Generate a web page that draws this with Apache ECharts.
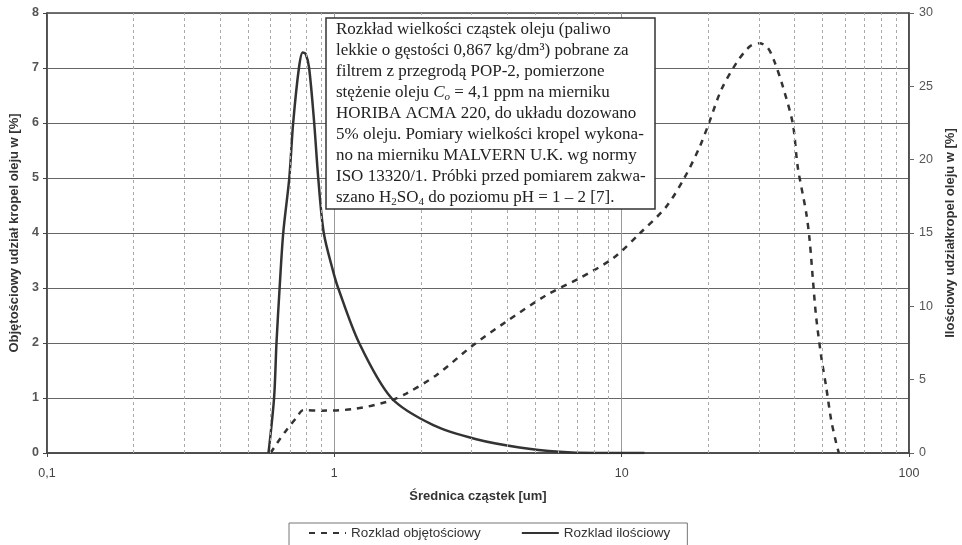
<!DOCTYPE html>
<html>
<head>
<meta charset="utf-8">
<script src="https://cdn.jsdelivr.net/npm/echarts@6/dist/echarts.min.js"></script>
<style>
html,body{margin:0;padding:0;background:#fff;}
#chart{width:962px;height:545px;}
</style>
</head>
<body>
<div id="chart"></div>
<script>
// ---- data ----
const volSizes = [0.6, 0.632, 0.682, 0.74, 0.78, 0.89, 1.17, 1.52, 1.78, 2.27, 3.04, 3.97, 5.47, 7.14, 9.33, 11.6, 14.3, 16.6, 18.7, 20.2, 22.2, 25.0, 27.9, 30.2, 32.3, 34.0, 36.4, 39.4, 41.0, 43.9, 45.1, 46.3, 47.5, 49.5, 51.5, 53.6, 55.8, 57];
const volValues = [0, 0.18, 0.42, 0.65, 0.78, 0.77, 0.8, 0.93, 1.08, 1.42, 1.96, 2.39, 2.87, 3.18, 3.54, 4.0, 4.48, 5.02, 5.57, 6.02, 6.6, 7.08, 7.39, 7.45, 7.36, 7.12, 6.66, 5.99, 5.2, 4.36, 3.87, 3.15, 2.48, 1.75, 1.2, 0.6, 0.18, 0];

const numSizes = [0.59, 0.617, 0.629, 0.645, 0.664, 0.697, 0.719, 0.753, 0.776, 0.795, 0.817, 0.851, 0.879, 0.919, 0.99, 1.031, 1.22, 1.58, 2.21, 3.12, 4.41, 6.08, 8.0, 12];
const numValues = [0, 3.75, 7.5, 11.25, 15, 18.75, 22.5, 26.25, 27.3, 27.2, 26.25, 22.5, 18.75, 15, 12.4, 11.25, 7.5, 3.75, 1.9, 0.94, 0.38, 0.08, 0, 0];

const xTickValues = [0.1, 1, 10, 100];
const xTickLabels = ['0,1', '1', '10', '100'];
const xMinorGrid = [0.2,0.3,0.4,0.5,0.6,0.7,0.8,0.9,2,3,4,5,6,7,8,9,20,30,40,50,60,70,80,90];

const seriesNames = ['Rozklad objętościowy', 'Rozklad ilościowy'];
const xAxisName = 'Średnica cząstek [um]';
const yLeftName = 'Objętościowy udział kropel oleju w [%]';
const yRightName = 'Ilościowy udziałkropel oleju w [%]';

const noteLines = [
  'Rozkład wielkości cząstek oleju (paliwo',
  'lekkie o gęstości 0,867 kg/dm³) pobrane za',
  'filtrem z przegrodą POP-2, pomierzone',
  'stężenie oleju {i|C}{sub|o} = 4,1 ppm na mierniku',
  'HORIBA ACMA 220, do układu dozowano',
  '5% oleju. Pomiary wielkości kropel wykona-',
  'no na mierniku MALVERN U.K. wg normy',
  'ISO 13320/1. Próbki przed pomiarem zakwa-',
  'szano H{s|2}SO{s|4} do poziomu pH = 1 – 2 [7].'
];

// ---- chart ----
const chart = echarts.init(document.getElementById('chart'), null, {renderer: 'canvas'});
const sans = '"Liberation Sans", Arial, sans-serif';
const serif = '"Liberation Serif", "Times New Roman", serif';

const volData = volSizes.map((x, i) => [x, volValues[i]]);
const numData = numSizes.map((x, i) => [x, numValues[i]]);

chart.setOption({
  animation: false,
  backgroundColor: '#fff',
  title: {
    text: noteLines.join('\n'),
    left: 326, top: 18,
    padding: [1, 10, 1, 10],
    backgroundColor: '#fff',
    borderColor: '#333',
    borderWidth: 1.5,
    textStyle: {
      fontFamily: serif, fontSize: 17, fontWeight: 'normal', color: '#222', lineHeight: 21,
      rich: {
        i: {fontFamily: serif, fontSize: 17, fontStyle: 'italic', color: '#222', lineHeight: 21},
        sub: {fontFamily: serif, fontSize: 11, fontStyle: 'italic', color: '#222', verticalAlign: 'bottom', lineHeight: 17},
        s: {fontFamily: serif, fontSize: 11, color: '#222', verticalAlign: 'bottom', lineHeight: 17}
      }
    },
    z: 10
  },
  legend: {
    data: seriesNames,
    left: 289, top: 523,
    orient: 'horizontal',
    padding: [3, 17, 20, 19],
    itemGap: 40,
    itemWidth: 37, itemHeight: 12,
    borderColor: '#777', borderWidth: 1,
    itemStyle: {opacity: 0},
    textStyle: {fontFamily: sans, fontSize: 13.5, color: '#333'}
  },
  grid: {
    left: 47, right: 53, top: 13, bottom: 92,
    outerBoundsMode: 'none',
    containLabel: false,
    show: true, borderColor: '#444', borderWidth: 1.5, backgroundColor: 'transparent'
  },
  xAxis: {
    type: 'log', logBase: 10, min: 0.1, max: 100,
    name: xAxisName, nameLocation: 'middle', nameGap: 37,
    nameTextStyle: {fontFamily: sans, fontSize: 13, fontWeight: 'bold', color: '#333'},
    axisLine: {show: true, lineStyle: {color: '#444', width: 1.5}},
    axisTick: {show: true, length: 4, lineStyle: {color: '#444'}},
    axisLabel: {
      fontFamily: sans, fontSize: 12.5, color: '#444', margin: 14,
      formatter: function (v) {
        const idx = xTickValues.findIndex(t => Math.abs(Math.log10(t) - Math.log10(v)) < 1e-6);
        return idx >= 0 ? xTickLabels[idx] : '';
      }
    },
    splitLine: {show: true, lineStyle: {color: '#999', width: 1}},
    minorTick: {show: false}
  },
  yAxis: [
    {
      type: 'value', min: 0, max: 8, interval: 1, position: 'left',
      name: yLeftName, nameLocation: 'middle', nameGap: 24, nameRotate: 90,
      nameTextStyle: {fontFamily: sans, fontSize: 13, fontWeight: 'bold', color: '#333'},
      axisLine: {show: true, lineStyle: {color: '#444', width: 1.5}},
      axisTick: {show: true, length: 4, lineStyle: {color: '#444'}},
      axisLabel: {fontFamily: sans, fontSize: 12.5, fontWeight: 'bold', color: '#555', margin: 8},
      splitLine: {show: true, lineStyle: {color: '#666', width: 1}}
    },
    {
      type: 'value', min: 0, max: 30, interval: 5, position: 'right',
      name: yRightName, nameLocation: 'middle', nameGap: 28, nameRotate: 90,
      nameTextStyle: {fontFamily: sans, fontSize: 13, fontWeight: 'bold', color: '#333'},
      axisLine: {show: true, lineStyle: {color: '#444', width: 1.5}},
      axisTick: {show: true, length: 5, lineStyle: {color: '#666'}},
      axisLabel: {fontFamily: sans, fontSize: 12.5, color: '#555', margin: 10},
      splitLine: {show: false}
    }
  ],
  series: [
    {
      name: 'minorGrid', type: 'line', data: [], z: 1, silent: true,
      markLine: {
        silent: true, symbol: 'none', animation: false,
        label: {show: false},
        lineStyle: {color: '#aaa', width: 1, type: [3, 3]},
        data: xMinorGrid.map(v => ({xAxis: v}))
      }
    },
    {
      name: seriesNames[0], type: 'line', yAxisIndex: 0, data: volData,
      smooth: 0.3, symbol: 'none', z: 3,
      lineStyle: {color: '#333', width: 2.5, type: [6, 6]},
      itemStyle: {color: '#333'}
    },
    {
      name: seriesNames[1], type: 'line', yAxisIndex: 1, data: numData,
      smooth: 0.3, symbol: 'none', z: 4,
      lineStyle: {color: '#333', width: 2.5},
      itemStyle: {color: '#333'}
    }
  ]
});
</script>
</body>
</html>
